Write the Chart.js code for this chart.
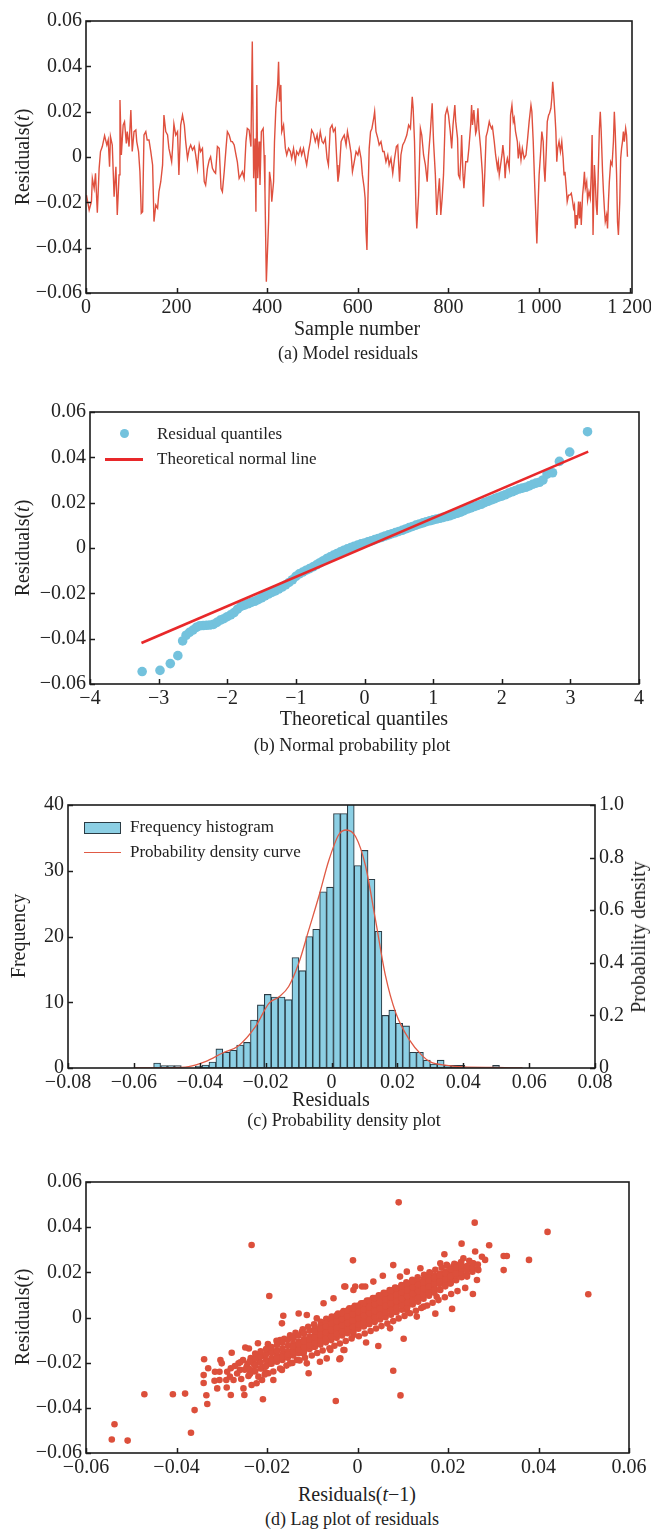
<!DOCTYPE html>
<html>
<head>
<meta charset="utf-8">
<title>Residual diagnostics</title>
<script src="https://cdn.jsdelivr.net/npm/chart.js@4.4.0/dist/chart.umd.min.js"></script>
<style>
  html, body { margin: 0; padding: 0; background: #fff; }
  #page { position: relative; width: 651px; height: 1530px; overflow: hidden;
          font-family: "Liberation Serif", "Times New Roman", serif; color: #222; }
  #page canvas { position: absolute; left: 0; }
  .txt { position: absolute; white-space: nowrap; line-height: 1; transform: translate(-50%, -50%); }
  .rot { transform: translate(-50%, -50%) rotate(-90deg); }
  .leg { position: absolute; white-space: nowrap; line-height: 1; font-size: 17px; transform: translateY(-50%); }
  .mark { position: absolute; }
</style>
</head>
<body>
<div id="page">
  <canvas id="cA" width="651" height="320" style="top:0"></canvas>
  <canvas id="cB" width="651" height="320" style="top:390px"></canvas>
  <canvas id="cC" width="651" height="310" style="top:785px"></canvas>
  <canvas id="cD" width="651" height="320" style="top:1160px"></canvas>
</div>
<script>
(function () {
  'use strict';

  // ── Data: (a) residual series [sample, residual] ─────────────
  var residualSeries = [
    [1,-0.0168],[7,-0.0234],[12,-0.0197],[14,-0.0094],[18,-0.0138],[21,-0.0072],[25,-0.0246],[29,-0.0050],
    [32,0.0024],[36,0.0046],[41,0.0094],[46,0.0053],[49,0.0075],[52,-0.0043],[54,0.0090],[58,0.0053],
    [62,-0.0175],[66,-0.0043],[69,-0.0256],[73,-0.0079],[75,0.0251],[78,0.0009],[82,0.0141],[85,0.0156],
    [89,0.0060],[91,0.0112],[95,0.0046],[99,0.0207],[102,0.0024],[106,0.0112],[110,0.0119],[112,0.0068],
    [116,0.0024],[119,-0.0065],[122,-0.0248],[125,-0.0241],[128,0.0097],[132,0.0112],[135,0.0075],[139,0.0075],
    [143,0.0024],[147,-0.0035],[150,-0.0285],[154,-0.0212],[158,-0.0226],[161,-0.0153],[165,-0.0109],[169,-0.0035],
    [172,0.0185],[176,0.0112],[180,0.0097],[183,0.0038],[186,0.0009],[189,-0.0021],[191,0.0038],[194,0.0146],
    [198,0.0097],[202,0.0112],[205,-0.0079],[209,0.0141],[213,0.0185],[217,0.0141],[220,0.0068],[224,-0.0006],
    [228,0.0038],[231,0.0053],[235,0.0031],[239,0.0046],[242,0.0009],[246,-0.0050],[250,0.0053],[253,0.0024],
    [257,0.0038],[261,-0.0109],[264,-0.0124],[268,-0.0050],[272,-0.0013],[275,0.0001],[279,-0.0050],[283,-0.0065],
    [286,-0.0072],[290,0.0046],[294,0.0038],[298,-0.0138],[301,-0.0153],[305,-0.0065],[309,0.0038],[312,0.0112],
    [316,0.0097],[320,0.0068],[323,0.0068],[327,0.0053],[331,0.0009],[334,-0.0021],[338,-0.0094],[342,-0.0079],
    [345,-0.0065],[349,-0.0094],[353,0.0068],[356,0.0126],[360,0.0119],[364,0.0046],[367,0.0509],[370,-0.0094],
    [373,0.0082],[375,-0.0241],[377,0.0318],[379,-0.0094],[382,0.0068],[384,-0.0124],[387,0.0112],[391,0.0126],
    [393,0.0009],[395,-0.0153],[398,-0.0550],[403,-0.0285],[405,-0.0065],[408,-0.0109],[410,-0.0197],[414,-0.0109],
    [416,0.0068],[419,0.0215],[423,0.0318],[425,0.0420],[427,0.0244],[430,0.0318],[432,0.0112],[436,0.0141],
    [440,0.0038],[443,0.0009],[447,0.0038],[451,0.0024],[454,-0.0006],[458,0.0038],[462,-0.0021],[465,0.0024],
    [469,0.0009],[473,0.0038],[476,0.0009],[480,0.0038],[484,-0.0006],[487,-0.0035],[491,0.0024],[495,0.0068],
    [498,0.0119],[502,0.0104],[506,0.0068],[510,0.0097],[513,0.0053],[517,0.0112],[521,0.0068],[524,0.0060],
    [528,0.0082],[532,-0.0006],[535,-0.0035],[539,0.0126],[543,0.0141],[546,0.0112],[550,0.0126],[554,-0.0035],
    [556,-0.0109],[559,-0.0065],[563,0.0068],[566,0.0082],[570,0.0097],[574,0.0053],[577,0.0112],[581,0.0068],
    [585,0.0016],[588,-0.0065],[592,-0.0021],[596,0.0024],[600,0.0009],[603,0.0038],[607,-0.0006],[610,-0.0079],
    [614,-0.0138],[616,-0.0182],[618,-0.0329],[620,-0.0410],[622,-0.0197],[625,0.0038],[628,0.0112],[631,0.0126],
    [635,0.0171],[637,0.0200],[640,0.0112],[644,0.0082],[647,0.0053],[651,0.0068],[655,0.0024],[658,0.0024],
    [662,-0.0021],[666,0.0009],[669,-0.0035],[673,-0.0006],[677,-0.0072],[681,-0.0006],[685,0.0046],[688,0.0053],
    [692,-0.0109],[695,0.0009],[699,0.0053],[703,0.0068],[708,0.0097],[712,0.0141],[716,0.0126],[720,0.0266],
    [722,0.0215],[725,0.0068],[728,-0.0212],[730,-0.0315],[734,-0.0168],[738,0.0126],[741,0.0097],[745,0.0009],
    [749,-0.0035],[753,-0.0109],[756,0.0009],[760,0.0112],[764,0.0237],[767,0.0068],[771,-0.0079],[774,-0.0256],
    [777,-0.0168],[780,-0.0094],[783,-0.0256],[786,-0.0182],[789,-0.0079],[793,0.0185],[797,0.0215],[800,0.0185],
    [804,0.0112],[807,0.0038],[810,0.0141],[814,0.0229],[816,0.0156],[820,0.0082],[822,-0.0079],[825,-0.0094],
    [827,-0.0021],[829,0.0097],[832,-0.0079],[834,-0.0138],[838,-0.0021],[842,-0.0021],[845,0.0038],[849,0.0141],
    [851,0.0229],[853,0.0141],[856,0.0207],[860,0.0104],[862,0.0119],[865,0.0215],[867,0.0126],[871,0.0038],
    [875,-0.0079],[877,-0.0219],[880,-0.0079],[883,0.0090],[886,0.0112],[890,0.0156],[892,0.0141],[895,0.0126],
    [897,0.0134],[901,0.0068],[904,0.0009],[908,-0.0050],[910,-0.0021],[912,-0.0079],[915,-0.0035],[918,0.0009],
    [920,0.0053],[923,-0.0006],[925,-0.0094],[927,-0.0035],[930,-0.0006],[934,-0.0050],[937,0.0185],[940,0.0229],
    [943,0.0156],[945,0.0171],[948,0.0112],[952,0.0068],[954,-0.0006],[957,0.0046],[960,-0.0013],[963,0.0038],
    [967,-0.0006],[971,0.0009],[974,0.0068],[978,0.0156],[982,0.0229],[984,0.0200],[987,0.0068],[990,-0.0109],
    [993,-0.0271],[995,-0.0381],[997,-0.0256],[1000,-0.0079],[1003,0.0009],[1006,0.0112],[1009,0.0068],[1011,-0.0050],
    [1013,-0.0109],[1016,0.0038],[1018,0.0156],[1021,0.0185],[1023,0.0193],[1026,0.0215],[1028,0.0259],[1030,0.0332],
    [1032,0.0281],[1035,0.0185],[1037,0.0112],[1039,-0.0021],[1041,0.0038],[1044,0.0068],[1047,0.0024],[1050,0.0068],
    [1053,-0.0006],[1055,-0.0079],[1057,-0.0065],[1060,-0.0138],[1062,-0.0197],[1065,-0.0168],[1068,-0.0168],[1071,-0.0160],
    [1073,-0.0182],[1076,-0.0226],[1078,-0.0212],[1080,-0.0315],[1082,-0.0256],[1084,-0.0300],[1087,-0.0197],[1089,-0.0271],
    [1091,-0.0197],[1093,-0.0300],[1096,-0.0168],[1098,-0.0124],[1100,-0.0065],[1102,-0.0138],[1105,-0.0109],[1107,-0.0190],
    [1110,-0.0153],[1113,-0.0182],[1115,-0.0079],[1117,0.0097],[1119,-0.0344],[1122,-0.0035],[1124,-0.0109],[1126,-0.0212],
    [1128,-0.0256],[1130,-0.0109],[1133,0.0126],[1135,0.0200],[1137,0.0112],[1140,-0.0065],[1142,-0.0153],[1144,-0.0226],
    [1146,-0.0285],[1149,-0.0256],[1151,-0.0315],[1153,-0.0197],[1155,-0.0109],[1158,-0.0021],[1161,-0.0035],[1164,0.0068],
    [1166,0.0200],[1168,0.0112],[1171,-0.0079],[1173,-0.0285],[1175,-0.0344],[1178,-0.0197],[1180,-0.0006],[1182,0.0038],
    [1184,0.0068],[1186,0.0112],[1188,0.0068],[1191,0.0126],[1193,0.0097],[1195,0.0001]
  ];

  // ── Data: (b) normal probability plot [theoretical, residual] ─
  var qqPoints = [
    [-3.24,-0.0545],[-2.98,-0.0540],[-2.83,-0.0510],[-2.72,-0.0475],[-2.65,-0.0410],[-2.60,-0.0385],[-2.55,-0.0372],
    [-2.50,-0.0362],[-2.45,-0.0350],[-2.40,-0.0343],[-2.35,-0.0342],[-2.30,-0.0341],[-2.25,-0.0340],[-2.20,-0.0337],
    [-2.15,-0.0328],[-2.10,-0.0318],[-2.05,-0.0312],[-2.00,-0.0303],[-1.95,-0.0295],[-1.90,-0.0285],[-1.85,-0.0270],
    [-1.80,-0.0258],[-1.75,-0.0252],[-1.70,-0.0246],[-1.65,-0.0240],[-1.60,-0.0235],[-1.55,-0.0228],[-1.50,-0.0220],
    [-1.45,-0.0211],[-1.40,-0.0203],[-1.35,-0.0196],[-1.30,-0.0189],[-1.25,-0.0181],[-1.20,-0.0172],[-1.15,-0.0163],
    [-1.10,-0.0152],[-1.05,-0.0140],[-1.00,-0.0125],[-0.95,-0.0114],[-0.90,-0.0106],[-0.85,-0.0098],[-0.80,-0.0091],
    [-0.75,-0.0083],[-0.70,-0.0074],[-0.65,-0.0065],[-0.60,-0.0056],[-0.55,-0.0047],[-0.50,-0.0039],[-0.45,-0.0031],
    [-0.40,-0.0024],[-0.35,-0.0017],[-0.30,-0.0010],[-0.25,-0.0004],[-0.20,0.0002],[-0.15,0.0008],[-0.10,0.0013],
    [-0.05,0.0018],[0.00,0.0022],[0.05,0.0027],[0.10,0.0032],[0.15,0.0037],[0.20,0.0042],[0.25,0.0047],
    [0.30,0.0053],[0.35,0.0058],[0.40,0.0063],[0.45,0.0068],[0.50,0.0073],[0.55,0.0078],[0.60,0.0084],
    [0.65,0.0090],[0.70,0.0095],[0.75,0.0101],[0.80,0.0106],[0.85,0.0111],[0.90,0.0116],[0.95,0.0120],
    [1.00,0.0124],[1.05,0.0128],[1.10,0.0131],[1.15,0.0135],[1.20,0.0139],[1.25,0.0143],[1.30,0.0148],
    [1.35,0.0153],[1.40,0.0158],[1.45,0.0165],[1.50,0.0172],[1.55,0.0177],[1.60,0.0183],[1.65,0.0188],
    [1.70,0.0193],[1.75,0.0200],[1.80,0.0206],[1.85,0.0212],[1.90,0.0218],[1.95,0.0224],[2.00,0.0229],
    [2.05,0.0235],[2.10,0.0242],[2.15,0.0248],[2.20,0.0254],[2.25,0.0260],[2.30,0.0264],[2.35,0.0268],
    [2.40,0.0274],[2.45,0.0281],[2.50,0.0286],[2.55,0.0290],[2.60,0.0300],[2.66,0.0326],[2.74,0.0332],
    [2.84,0.0382],[2.99,0.0423],[3.25,0.0513]
  ];
  var qqLineX = [-3.25, 3.26];
  var qqLineY = [-0.0419, 0.0425];

  // ── Data: (c) histogram (50 bins) and density curve ──────────
  var binCenters = [
    -0.05295,-0.05085,-0.04875,-0.04665,-0.04455,-0.04245,-0.04035,-0.03825,-0.03615,-0.03405,
    -0.03195,-0.02985,-0.02775,-0.02565,-0.02355,-0.02145,-0.01935,-0.01725,-0.01515,-0.01305,
    -0.01095,-0.00885,-0.00675,-0.00465,-0.00255,-0.00045, 0.00165, 0.00375, 0.00585, 0.00795,
     0.01005, 0.01215, 0.01425, 0.01635, 0.01845, 0.02055, 0.02265, 0.02475, 0.02685, 0.02895,
     0.03105, 0.03315, 0.03525, 0.03735, 0.03945, 0.04155, 0.04365, 0.04575, 0.04785, 0.04995
  ];
  var binFreq = [
    0.75, 0.35, 0.35, 0.35, 0,    0,    0.3,  0.45, 0.9,  2.9,
    2.4,  2.7,  3.5,  3.9,  7.3,  9.6,  11.2, 10.8, 10.8, 10.4,
    16.8, 14.8, 20.0, 21.1, 26.8, 27.5, 38.7, 38.7, 42,   30.8,
    33.1, 28.7, 20.8, 8.0,  8.8,  6.8,  6.4,  2.4,  2.4,  1.2,
    0.6,  1.2,  0.4,  0.4,  0.4,  0,    0,    0,    0,    0.4
  ];
  var densityX = [-0.0600,-0.0500,-0.0434,-0.0383,-0.0332,-0.0282,-0.0231,-0.0190,-0.0160,-0.0130,-0.0099,
                  -0.0069,-0.0039,-0.0008,0.0022,0.0045,0.0073,0.0103,0.0134,0.0164,0.0195,0.0235,
                  0.0276,0.0300,0.0350,0.0400,0.0500,0.0580];
  var densityY = [0.000,0.001,0.005,0.024,0.056,0.085,0.157,0.246,0.270,0.310,0.400,
                  0.525,0.650,0.790,0.887,0.905,0.880,0.770,0.560,0.350,0.210,0.110,
                  0.046,0.023,0.010,0.004,0.002,0.000];

  // ── Data: (d) lag plot [residual(t-1), residual(t)] ──────────
  // isolated points and cloud fringe
  var lagOutliers = [
    [-0.0543,-0.0540],[-0.0537,-0.0473],[-0.0508,-0.0545],[-0.0471,-0.0340],[-0.0408,-0.0340],[-0.0381,-0.0337],
    [-0.0360,-0.0410],[-0.0368,-0.0510],[-0.0339,-0.0185],[-0.0332,-0.0383],[-0.0234,0.0321],[-0.0195,0.0095],
    [-0.0048,-0.0370],[-0.0010,0.0253],
    [-0.0340,-0.0255],[-0.0340,-0.0290],[-0.0334,-0.0344],[-0.0330,-0.0225],[-0.0315,-0.0240],[-0.0305,-0.0240],
    [-0.0316,-0.0280],[-0.0305,-0.0277],[-0.0310,-0.0314],[-0.0303,-0.0188],[-0.0300,-0.0203],[-0.0289,-0.0310],
    [-0.0280,-0.0343],[-0.0278,-0.0156],[-0.0290,-0.0277],[-0.0280,-0.0225],[-0.0274,-0.0277],[-0.0263,-0.0203],
    [-0.0260,-0.0232],[-0.0253,-0.0188],[-0.0252,-0.0314],[-0.0250,-0.0343],[-0.0248,-0.0133],[-0.0240,-0.0137],
    [-0.0245,-0.0218],[-0.0237,-0.0247],[-0.0230,-0.0203],[-0.0234,-0.0299],[-0.0223,-0.0291],[-0.0220,-0.0114],
    [-0.0215,-0.0173],[-0.0211,-0.0277],[-0.0209,-0.0362],[-0.0204,-0.0218],[-0.0200,-0.0144],[-0.0197,-0.0247],
    [-0.0193,-0.0203],[-0.0186,-0.0277],[-0.0182,-0.0151],[-0.0178,-0.0188],[-0.0171,-0.0100],[-0.0167,-0.0026],
    [-0.0164,0.0008],[-0.0167,-0.0232],[-0.0156,-0.0159],[-0.0149,-0.0203],[-0.0141,-0.0085],[-0.0138,-0.0129],
    [-0.0130,0.0018],[-0.0134,-0.0188],[-0.0123,-0.0063],[-0.0119,-0.0159],[-0.0112,0.0011],[-0.0112,-0.0203],
    [-0.0108,-0.0247],[-0.0105,-0.0085],[-0.0097,-0.0129],[-0.0090,-0.0004],[-0.0086,-0.0055],[-0.0083,-0.0196],
    [-0.0075,0.0063],[-0.0075,-0.0100],[-0.0068,-0.0181],[-0.0064,-0.0041],[-0.0060,-0.0144],[-0.0053,0.0085],
    [-0.0049,-0.0085],[-0.0040,-0.0185],[-0.0031,-0.0144],[-0.0027,0.0137],[-0.0020,0.0033],[-0.0009,-0.0063],
    [-0.0005,0.0137],
    [0.0091,0.0510],[0.0259,0.0420],[0.0420,0.0379],[0.0510,0.0103],[0.0379,0.0255],[0.0323,0.0272],[0.0330,0.0272],
    [0.0323,0.0210],[0.0291,0.0320],[0.0230,0.0327],[0.0192,0.0280],[0.0255,0.0104],[0.0209,0.0038],[0.0172,0.0017],
    [0.0079,0.0232],[0.0056,0.0185],[0.0102,-0.0094],[0.0046,-0.0126],[0.0019,-0.0111],[0.0079,-0.0236],[0.0095,-0.0345],
    [-0.0029,0.0137],[-0.0009,0.0122],[0.0010,0.0137],[0.0017,0.0137],[0.0035,0.0159],[0.0057,0.0092],[0.0094,0.0181],
    [0.0109,0.0203],[0.0139,0.0218],[0.0161,0.0196],[0.0175,0.0181],[0.0183,0.0240],[0.0197,0.0233],[0.0212,0.0225],
    [0.0223,0.0233],[0.0234,0.0262],[0.0242,0.0181],[0.0256,0.0240],[0.0260,0.0292],[0.0267,0.0210],[0.0275,0.0269],
    [0.0282,0.0255],[0.0264,0.0166],[0.0183,0.0122],[0.0146,0.0048],[0.0131,0.0004],[0.0072,-0.0048],[-0.0029,-0.0144],
    [-0.0038,-0.0181],[-0.0009,-0.0077],[0.0035,-0.0011],[0.0109,0.0033],[0.0175,0.0092],[0.0205,0.0151],[0.0146,0.0122],
    [0.0094,0.0077],[0.0057,0.0033],[0.0006,0.0004],
    [-0.0288,-0.0240],[-0.0282,-0.0262],[-0.0271,-0.0215],[-0.0266,-0.0248],[-0.0259,-0.0198],[-0.0257,-0.0272],
    [-0.0249,-0.0231],[-0.0243,-0.0205],[-0.0241,-0.0259],[-0.0236,-0.0180],[-0.0229,-0.0238],[-0.0226,-0.0214],
    [-0.0219,-0.0262],[-0.0217,-0.0191],[-0.0213,-0.0226],[-0.0206,-0.0168],[-0.0203,-0.0244],[-0.0199,-0.0206]
  ];
  // semi-dense shell around the core
  var lagShell = [
    [-0.0205,-0.0252],[-0.0198,-0.0118],[-0.0186,-0.0239],[-0.0179,-0.0103],[-0.0171,-0.0226],[-0.0162,-0.0094],
    [-0.0157,-0.0213],[-0.0149,-0.0079],[-0.0144,-0.0201],[-0.0137,-0.0068],[-0.0128,-0.0190],[-0.0121,-0.0052],
    [-0.0116,-0.0178],[-0.0109,-0.0041],[-0.0101,-0.0168],[-0.0096,-0.0030],[-0.0089,-0.0157],[-0.0081,-0.0019],
    [-0.0077,-0.0146],[-0.0069,-0.0006],[-0.0062,-0.0136],[-0.0057,0.0004],[-0.0051,-0.0125],[-0.0043,0.0018],
    [-0.0039,-0.0115],[-0.0031,0.0029],[-0.0026,-0.0104],[-0.0018,0.0041],[-0.0013,-0.0093],[-0.0006,0.0052],
    [0.0003,-0.0083],[0.0008,0.0063],[0.0016,-0.0071],[0.0021,0.0075],[0.0029,-0.0060],[0.0034,0.0086],
    [0.0041,-0.0049],[0.0047,0.0098],[0.0053,-0.0038],[0.0058,0.0109],[0.0066,-0.0027],[0.0071,0.0121],
    [0.0079,-0.0016],[0.0083,0.0133],[0.0091,-0.0004],[0.0097,0.0144],[0.0104,0.0007],[0.0108,0.0156],
    [0.0116,0.0019],[0.0121,0.0167],[0.0129,0.0030],[0.0133,0.0178],[0.0141,0.0042],[0.0147,0.0189],
    [0.0154,0.0053],[0.0159,0.0200],[0.0166,0.0065],[0.0172,0.0211],[0.0179,0.0077],[0.0186,0.0221],
    [0.0193,0.0090],[0.0199,0.0229],[0.0207,0.0104],[0.0214,0.0238],[0.0221,0.0117],[0.0229,0.0245],
    [0.0238,0.0131],[0.0247,0.0251]
  ];
  // saturated core of the cloud, read column by column
  var lagCore = [
    [-0.0238,-0.0250],[-0.0238,-0.0195],[-0.0238,-0.0228],
    [-0.0226,-0.0238],[-0.0226,-0.0182],[-0.0226,-0.0210],[-0.0226,-0.0160],
    [-0.0214,-0.0225],[-0.0214,-0.0199],[-0.0214,-0.0172],[-0.0214,-0.0150],
    [-0.0202,-0.0215],[-0.0202,-0.0188],[-0.0202,-0.0163],[-0.0202,-0.0140],
    [-0.0190,-0.0205],[-0.0190,-0.0180],[-0.0190,-0.0156],[-0.0190,-0.0131],[-0.0190,-0.0192],
    [-0.0178,-0.0196],[-0.0178,-0.0170],[-0.0178,-0.0148],[-0.0178,-0.0122],[-0.0178,-0.0182],
    [-0.0166,-0.0188],[-0.0166,-0.0161],[-0.0166,-0.0137],[-0.0166,-0.0112],[-0.0166,-0.0175],
    [-0.0154,-0.0178],[-0.0154,-0.0150],[-0.0154,-0.0125],[-0.0154,-0.0100],[-0.0154,-0.0163],
    [-0.0142,-0.0168],[-0.0142,-0.0141],[-0.0142,-0.0116],[-0.0142,-0.0092],[-0.0142,-0.0152],[-0.0142,-0.0129],
    [-0.0130,-0.0158],[-0.0130,-0.0131],[-0.0130,-0.0106],[-0.0130,-0.0080],[-0.0130,-0.0143],[-0.0130,-0.0118],
    [-0.0118,-0.0148],[-0.0118,-0.0120],[-0.0118,-0.0095],[-0.0118,-0.0070],[-0.0118,-0.0132],[-0.0118,-0.0107],
    [-0.0106,-0.0140],[-0.0106,-0.0110],[-0.0106,-0.0085],[-0.0106,-0.0058],[-0.0106,-0.0122],[-0.0106,-0.0097],
    [-0.0094,-0.0130],[-0.0094,-0.0101],[-0.0094,-0.0074],[-0.0094,-0.0048],[-0.0094,-0.0113],[-0.0094,-0.0088],[-0.0094,-0.0062],
    [-0.0082,-0.0120],[-0.0082,-0.0090],[-0.0082,-0.0063],[-0.0082,-0.0037],[-0.0082,-0.0103],[-0.0082,-0.0077],[-0.0082,-0.0050],
    [-0.0070,-0.0110],[-0.0070,-0.0080],[-0.0070,-0.0052],[-0.0070,-0.0025],[-0.0070,-0.0094],[-0.0070,-0.0067],[-0.0070,-0.0039],
    [-0.0058,-0.0100],[-0.0058,-0.0070],[-0.0058,-0.0042],[-0.0058,-0.0015],[-0.0058,-0.0083],[-0.0058,-0.0056],[-0.0058,-0.0028],
    [-0.0046,-0.0090],[-0.0046,-0.0060],[-0.0046,-0.0031],[-0.0046,-0.0004],[-0.0046,-0.0073],[-0.0046,-0.0045],[-0.0046,-0.0017],[-0.0046,0.0010],
    [-0.0034,-0.0080],[-0.0034,-0.0049],[-0.0034,-0.0021],[-0.0034,0.0006],[-0.0034,-0.0063],[-0.0034,-0.0035],[-0.0034,-0.0007],[-0.0034,0.0020],
    [-0.0022,-0.0070],[-0.0022,-0.0038],[-0.0022,-0.0010],[-0.0022,0.0017],[-0.0022,-0.0052],[-0.0022,-0.0024],[-0.0022,0.0004],[-0.0022,0.0031],
    [-0.0010,-0.0060],[-0.0010,-0.0028],[-0.0010,0.0001],[-0.0010,0.0028],[-0.0010,-0.0042],[-0.0010,-0.0013],[-0.0010,0.0014],[-0.0010,0.0042],
    [0.0002,-0.0050],[0.0002,-0.0018],[0.0002,0.0011],[0.0002,0.0039],[0.0002,-0.0032],[0.0002,-0.0003],[0.0002,0.0025],[0.0002,0.0053],
    [0.0014,-0.0040],[0.0014,-0.0007],[0.0014,0.0022],[0.0014,0.0050],[0.0014,-0.0021],[0.0014,0.0008],[0.0014,0.0036],[0.0014,0.0064],
    [0.0026,-0.0030],[0.0026,0.0004],[0.0026,0.0033],[0.0026,0.0061],[0.0026,-0.0011],[0.0026,0.0019],[0.0026,0.0047],[0.0026,0.0075],
    [0.0038,-0.0020],[0.0038,0.0015],[0.0038,0.0044],[0.0038,0.0071],[0.0038,0.0000],[0.0038,0.0029],[0.0038,0.0058],[0.0038,0.0086],
    [0.0050,-0.0009],[0.0050,0.0026],[0.0050,0.0054],[0.0050,0.0082],[0.0050,0.0011],[0.0050,0.0040],[0.0050,0.0068],[0.0050,0.0097],
    [0.0062,0.0001],[0.0062,0.0036],[0.0062,0.0065],[0.0062,0.0093],[0.0062,0.0022],[0.0062,0.0051],[0.0062,0.0079],[0.0062,0.0108],
    [0.0074,0.0012],[0.0074,0.0047],[0.0074,0.0076],[0.0074,0.0104],[0.0074,0.0032],[0.0074,0.0062],[0.0074,0.0090],[0.0074,0.0120],
    [0.0086,0.0023],[0.0086,0.0058],[0.0086,0.0087],[0.0086,0.0115],[0.0086,0.0043],[0.0086,0.0072],[0.0086,0.0101],[0.0086,0.0130],
    [0.0098,0.0034],[0.0098,0.0069],[0.0098,0.0098],[0.0098,0.0126],[0.0098,0.0054],[0.0098,0.0083],[0.0098,0.0112],[0.0098,0.0141],
    [0.0110,0.0045],[0.0110,0.0080],[0.0110,0.0109],[0.0110,0.0137],[0.0110,0.0065],[0.0110,0.0094],[0.0110,0.0122],[0.0110,0.0150],
    [0.0122,0.0058],[0.0122,0.0091],[0.0122,0.0120],[0.0122,0.0148],[0.0122,0.0076],[0.0122,0.0105],[0.0122,0.0133],[0.0122,0.0160],
    [0.0134,0.0070],[0.0134,0.0102],[0.0134,0.0131],[0.0134,0.0159],[0.0134,0.0087],[0.0134,0.0116],[0.0134,0.0145],
    [0.0146,0.0083],[0.0146,0.0113],[0.0146,0.0141],[0.0146,0.0168],[0.0146,0.0098],[0.0146,0.0127],[0.0146,0.0155],
    [0.0158,0.0096],[0.0158,0.0124],[0.0158,0.0152],[0.0158,0.0177],[0.0158,0.0110],[0.0158,0.0138],[0.0158,0.0165],
    [0.0170,0.0110],[0.0170,0.0136],[0.0170,0.0162],[0.0170,0.0186],[0.0170,0.0122],[0.0170,0.0149],[0.0170,0.0175],
    [0.0182,0.0124],[0.0182,0.0148],[0.0182,0.0173],[0.0182,0.0195],[0.0182,0.0160],[0.0182,0.0186],
    [0.0194,0.0138],[0.0194,0.0160],[0.0194,0.0184],[0.0194,0.0204],[0.0194,0.0171],[0.0194,0.0196],
    [0.0206,0.0152],[0.0206,0.0172],[0.0206,0.0194],[0.0206,0.0212],[0.0206,0.0183],
    [0.0218,0.0165],[0.0218,0.0185],[0.0218,0.0205],[0.0218,0.0221],[0.0218,0.0195],
    [0.0230,0.0178],[0.0230,0.0198],[0.0230,0.0216],[0.0230,0.0230],
    [0.0242,0.0190],[0.0242,0.0210],[0.0242,0.0228],
    [0.0254,0.0203],[0.0254,0.0222],[0.0254,0.0240],
    [0.0266,0.0215],[0.0266,0.0235]
  ];

  // ── Tick values ──────────────────────────────────────────────
  var sampleTicks   = [0, 200, 400, 600, 800, 1000, 1200];
  var residualTicks = [-0.06, -0.04, -0.02, 0, 0.02, 0.04, 0.06];
  var quantileTicks = [-4, -3, -2, -1, 0, 1, 2, 3, 4];
  var histXTicks    = [-0.08, -0.06, -0.04, -0.02, 0, 0.02, 0.04, 0.06, 0.08];
  var freqTicks     = [0, 10, 20, 30, 40];
  var densityTicks  = [0, 0.2, 0.4, 0.6, 0.8, 1.0];

  // ── Helpers ──────────────────────────────────────────────────
  var SERIF = '"Liberation Serif", "Times New Roman", serif';
  var INK = '#1c1c1c';
  Chart.defaults.font.family = SERIF;
  Chart.defaults.font.size = 20;
  Chart.defaults.color = '#222';

  function minus(s) { return s.replace('-', '\u2212'); }
  function fmt2(v) { return Math.abs(v) < 1e-9 ? '0' : minus(v.toFixed(2)); }
  function fmt1(v) { return Math.abs(v) < 1e-9 ? '0' : v.toFixed(1); }
  function fmtInt(v) { return minus(String(v)); }
  function fmtThousands(v) { return String(v).replace(/\B(?=(\d{3})+(?!\d))/g, ' '); }

  function axis(pos, min, max, values, size, fmt, pad) {
    return {
      type: 'linear', position: pos, min: min, max: max, offset: false,
      grid: { display: false, drawTicks: false }, border: { display: false },
      ticks: { padding: pad, autoSkip: false, maxRotation: 0, callback: fmt,
               font: { family: SERIF, size: 20 }, color: '#222' },
      afterBuildTicks: function (s) { s.ticks = values.map(function (v) { return { value: v }; }); },
      afterFit: function (s) {
        if (pos === 'bottom') s.height = size; else s.width = size;
        s.paddingLeft = s.paddingRight = s.paddingTop = s.paddingBottom = 0;
      }
    };
  }

  // frame + inward tick marks
  var frame = {
    id: 'frame',
    afterDraw: function (chart) {
      var ctx = chart.ctx, a = chart.chartArea;
      ctx.save();
      ctx.strokeStyle = INK;
      ctx.lineWidth = 1.5;
      Object.keys(chart.scales).forEach(function (k) {
        var s = chart.scales[k];
        s.ticks.forEach(function (t) {
          var p = Math.round(s.getPixelForValue(t.value)) + 0.5;
          ctx.beginPath();
          if (s.position === 'bottom') { ctx.moveTo(p, a.bottom); ctx.lineTo(p, a.bottom - 5); }
          else if (s.position === 'left') { ctx.moveTo(a.left, p); ctx.lineTo(a.left + 5, p); }
          else { ctx.moveTo(a.right, p); ctx.lineTo(a.right - 5, p); }
          ctx.stroke();
        });
      });
      ctx.lineWidth = 1.6;
      ctx.strokeRect(a.left, a.top, a.right - a.left, a.bottom - a.top);
      ctx.restore();
    }
  };

  function baseOptions(scales, padding) {
    return {
      responsive: false, animation: false, events: [],
      layout: { padding: padding },
      plugins: { legend: { display: false }, tooltip: { enabled: false } },
      scales: scales
    };
  }

  function xy(pairs) { return pairs.map(function (p) { return { x: p[0], y: p[1] }; }); }
  function zip(xs, ys) { return xs.map(function (x, i) { return { x: x, y: ys[i] }; }); }

  // ── (a) Model residuals ──────────────────────────────────────
  new Chart(document.getElementById('cA'), {
    type: 'line',
    data: { datasets: [{
      data: xy(residualSeries), borderColor: '#df503e', borderWidth: 1.4,
      pointRadius: 0, tension: 0, fill: false
    }] },
    options: baseOptions({
      x: axis('bottom', 0, 1205, sampleTicks, 27, fmtThousands, 3),
      y: axis('left', -0.06, 0.06, residualTicks, 86, fmt2, 4)
    }, { top: 21, right: 19, left: 0, bottom: 0 }),
    plugins: [frame]
  });

  // ── (b) Normal probability plot ──────────────────────────────
  new Chart(document.getElementById('cB'), {
    type: 'scatter',
    data: { datasets: [
      { data: zip(qqLineX, qqLineY), showLine: true, borderColor: '#e8282a', borderWidth: 2.6,
        pointRadius: 0, order: 0 },
      { data: xy(qqPoints), backgroundColor: '#73c2dd', borderWidth: 0, pointRadius: 4.8, order: 1 }
    ] },
    options: baseOptions({
      x: axis('bottom', -4, 4, quantileTicks, 26, fmtInt, 3),
      y: axis('left', -0.06, 0.06, residualTicks, 90, fmt2, 4)
    }, { top: 22, right: 12, left: 0, bottom: 0 }),
    plugins: [frame]
  });

  // ── (c) Probability density plot ─────────────────────────────
  new Chart(document.getElementById('cC'), {
    type: 'bar',
    data: { datasets: [
      { type: 'line', yAxisID: 'y1', data: zip(densityX, densityY), borderColor: '#e05a45',
        borderWidth: 1.3, pointRadius: 0, cubicInterpolationMode: 'monotone', order: 0 },
      { type: 'bar', yAxisID: 'y', data: zip(binCenters, binFreq), backgroundColor: '#8ccfe4',
        borderColor: '#2a3b44', borderWidth: 1.1, borderSkipped: false,
        barPercentage: 1, categoryPercentage: 1, order: 1 }
    ] },
    options: baseOptions({
      x: axis('bottom', -0.08, 0.08, histXTicks, 27, fmt2, 3),
      y: axis('left', 0, 40, freqTicks, 68, fmtInt, 4),
      y1: axis('right', 0, 1.0, densityTicks, 56, fmt1, 4)
    }, { top: 20, right: 0, left: 0, bottom: 0 }),
    plugins: [frame]
  });

  // ── (d) Lag plot of residuals ────────────────────────────────
  new Chart(document.getElementById('cD'), {
    type: 'scatter',
    data: { datasets: [{
      data: xy(lagOutliers.concat(lagShell, lagCore)), backgroundColor: '#dc4f3b',
      borderWidth: 0, pointRadius: 3.3
    }] },
    options: baseOptions({
      x: axis('bottom', -0.06, 0.06, residualTicks, 27, fmt2, 3),
      y: axis('left', -0.06, 0.06, residualTicks, 86, fmt2, 4)
    }, { top: 22, right: 22, left: 0, bottom: 0 }),
    plugins: [frame]
  });

  // ── Axis titles, captions, legends ───────────────────────────
  var page = document.getElementById('page');
  function text(html, x, y, size, rotated) {
    var d = document.createElement('div');
    d.className = 'txt' + (rotated ? ' rot' : '');
    d.innerHTML = html;
    d.style.left = x + 'px'; d.style.top = y + 'px'; d.style.fontSize = size + 'px';
    page.appendChild(d);
  }
  function legText(str, x, y) {
    var d = document.createElement('div');
    d.className = 'leg'; d.textContent = str;
    d.style.left = x + 'px'; d.style.top = y + 'px';
    page.appendChild(d);
  }
  function mark(css) {
    var d = document.createElement('div');
    d.className = 'mark'; d.style.cssText = css;
    page.appendChild(d);
  }

  text('Residuals(<i>t</i>)', 22, 157, 20, true);
  text('Sample number', 357, 328, 20);
  text('(a) Model residuals', 348, 353, 18);

  text('Residuals(<i>t</i>)', 22, 548, 20, true);
  text('Theoretical quantiles', 364, 718, 20);
  text('(b) Normal probability plot', 352, 745, 18);
  mark('left:119.5px;top:428.5px;width:9px;height:9px;border-radius:50%;background:#73c2dd;');
  legText('Residual quantiles', 157, 433);
  mark('left:105px;top:457.5px;width:38px;height:3px;background:#e8282a;');
  legText('Theoretical normal line', 157, 458);

  text('Frequency', 18, 936, 20, true);
  text('Probability density', 638, 937, 20, true);
  text('Residuals', 331, 1099, 20);
  text('(c) Probability density plot', 344, 1120, 18);
  mark('left:84px;top:822px;width:37px;height:12px;box-sizing:border-box;background:#8ccfe4;border:1.5px solid #2a3b44;');
  legText('Frequency histogram', 130, 826);
  mark('left:84px;top:852px;width:37px;height:1.4px;background:#e05a45;');
  legText('Probability density curve', 130, 851);

  text('Residuals(<i>t</i>)', 22, 1317, 20, true);
  text('Residuals(<i>t</i>\u22121)', 357, 1494, 20);
  text('(d) Lag plot of residuals', 352, 1519, 18);
})();
</script>
</body>
</html>
